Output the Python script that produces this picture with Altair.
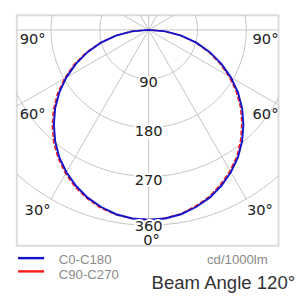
import altair as alt
import pandas as pd

# ---- data (cd/1000lm, gamma angle in degrees) ----
angles = [0, 5, 10, 15, 20, 25, 30, 35, 40, 45, 50, 55, 60, 65, 70, 75, 80, 85, 90]
c0_c180 = [350, 349, 345, 338, 329, 317, 303, 287, 268, 247, 225, 201, 175, 148, 120, 91, 61, 31, 0]
c90 = [350, 349, 346, 340, 331, 320, 306, 290, 272, 251, 229, 205, 179, 152, 123, 93, 62, 31, 0]
c270 = [350, 348, 344, 336, 327, 314, 300, 284, 264, 243, 221, 197, 171, 144, 117, 89, 60, 30, 0]

grid_radii = [90, 180, 270, 360]
spoke_angles = [0, 30, 60, 90, 120, 150, 180, 210, 240, 270, 300, 330]
series_names = ["C0-C180", "C90-C270"]
unit_text = "cd/1000lm"
beam_text = "Beam Angle 120°"

BLUE = "#1414c8"
RED = "#ff1e1e"
GRID = "#c4c4c4"

# ---- tables built from the lists ----
rows = []
for name, left, right in [(series_names[0], c0_c180, c0_c180), (series_names[1], c90, c270)]:
    for a, v in zip(angles, left):
        rows.append({"series": name, "side": -1, "angle": a, "I": v, "key": -a})
    for a, v in zip(angles, right):
        rows.append({"series": name, "side": 1, "angle": a, "I": v, "key": a})
curves = pd.DataFrame(rows)

circ = pd.DataFrame([{"r": r, "t": t} for r in grid_radii for t in range(0, 361, 3)])
spokes = pd.DataFrame({"t": spoke_angles, "r": [max(grid_radii)] * len(spoke_angles)})
rlabels = pd.DataFrame({"r": grid_radii, "label": [str(r) for r in grid_radii]})
one = pd.DataFrame({"a": [0]})

xs = alt.Scale(domain=[-243, 239.4], nice=False, zero=False)
ys = alt.Scale(domain=[-397.8, 27], nice=False, zero=False)

circles = alt.Chart(circ).mark_line(color=GRID, strokeWidth=1, clip=True).transform_calculate(
    x="datum.r*sin(datum.t*PI/180)", y="-datum.r*cos(datum.t*PI/180)"
).encode(
    x=alt.X("x:Q", scale=xs, axis=None),
    y=alt.Y("y:Q", scale=ys, axis=None),
    detail="r:N",
    order="t:Q",
)

spoke_layer = alt.Chart(spokes).mark_rule(color=GRID, strokeWidth=1, clip=True).transform_calculate(
    x0="0", y0="0",
    x1="datum.r*sin(datum.t*PI/180)", y1="-datum.r*cos(datum.t*PI/180)"
).encode(
    x=alt.X("x0:Q", scale=xs, axis=None), x2="x1:Q",
    y=alt.Y("y0:Q", scale=ys, axis=None), y2="y1:Q",
)

def curve(name, color, dash):
    base = alt.Chart(curves).transform_filter(alt.datum.series == name).transform_calculate(
        x="datum.side*datum.I*sin(datum.angle*PI/180)",
        y="-datum.I*cos(datum.angle*PI/180)",
    )
    kw = dict(color=color, strokeWidth=2 if dash is None else 1.6, clip=True)
    if dash is not None:
        kw["strokeDash"] = dash
    return base.mark_line(**kw).encode(
        x=alt.X("x:Q", scale=xs, axis=None),
        y=alt.Y("y:Q", scale=ys, axis=None),
        order="key:Q",
    )

red_curve = curve(series_names[1], RED, [5, 2])
blue_curve = curve(series_names[0], BLUE, None)

# label baseline sits a little below each ring (outermost ring label slightly closer)
rl_base = alt.Chart(rlabels).transform_calculate(
    x0="0", y0="-datum.r - (datum.r == 360 ? 11 : 16)"
).encode(
    x=alt.X("x0:Q", scale=xs, axis=None),
    y=alt.Y("y0:Q", scale=ys, axis=None),
    text="label:N",
)
rl_halo = rl_base.mark_text(font="DejaVu Sans", fontSize=15, color="white", stroke="white",
                            strokeWidth=4, baseline="alphabetic")
rl_text = rl_base.mark_text(font="DejaVu Sans", fontSize=15, color="#222222",
                            baseline="alphabetic")

def label(txt, x, y, align="center", font="DejaVu Sans", size=15, color="#222222"):
    return alt.Chart(one).mark_text(text=txt, font=font, fontSize=size, color=color,
                                    align=align, baseline="alphabetic").encode(
        x=alt.value(x), y=alt.value(y))

ang_labels = [
    label("90°", 16.3, 29.3), label("90°", 254.7, 29.3),
    label("60°", 16.3, 106), label("60°", 254.7, 106),
    label("30°", 21.3, 205), label("30°", 249, 205),
]
zero_lab = label("0°", 138, 235)

leg_blue = alt.Chart(one).mark_rule(color=BLUE, strokeWidth=2.5).encode(
    x=alt.value(1.3), x2=alt.value(28), y=alt.value(248.7))
leg_red = alt.Chart(one).mark_rule(color=RED, strokeWidth=2.5).encode(
    x=alt.value(1.3), x2=alt.value(28), y=alt.value(262.3))
leg_t1 = label(series_names[0], 43, 254.7, align="left", font="Liberation Sans", size=13.5, color="#8a8a8a")
leg_t2 = label(series_names[1], 43, 270.5, align="left", font="Liberation Sans", size=13.5, color="#8a8a8a")
unit_l = label(unit_text, 257, 254.5, align="right", font="Liberation Sans", size=13.5, color="#8a8a8a")
beam_l = label(beam_text, 285, 280.5, align="right", font="Liberation Sans", size=19, color="#333333")

chart = alt.layer(
    circles, spoke_layer, red_curve, blue_curve,
    rl_halo, rl_text, *ang_labels, zero_lab,
    leg_blue, leg_red, leg_t1, leg_t2, unit_l, beam_l,
).properties(
    width=268, height=236,
    padding={"left": 9, "top": 4, "right": 22, "bottom": 45},
    autosize=alt.AutoSizeParams(type="none"),
).configure_view(stroke="#dcdcdc", strokeWidth=2)

chart.save("out.html", embed_options={"renderer": "svg", "actions": False})
